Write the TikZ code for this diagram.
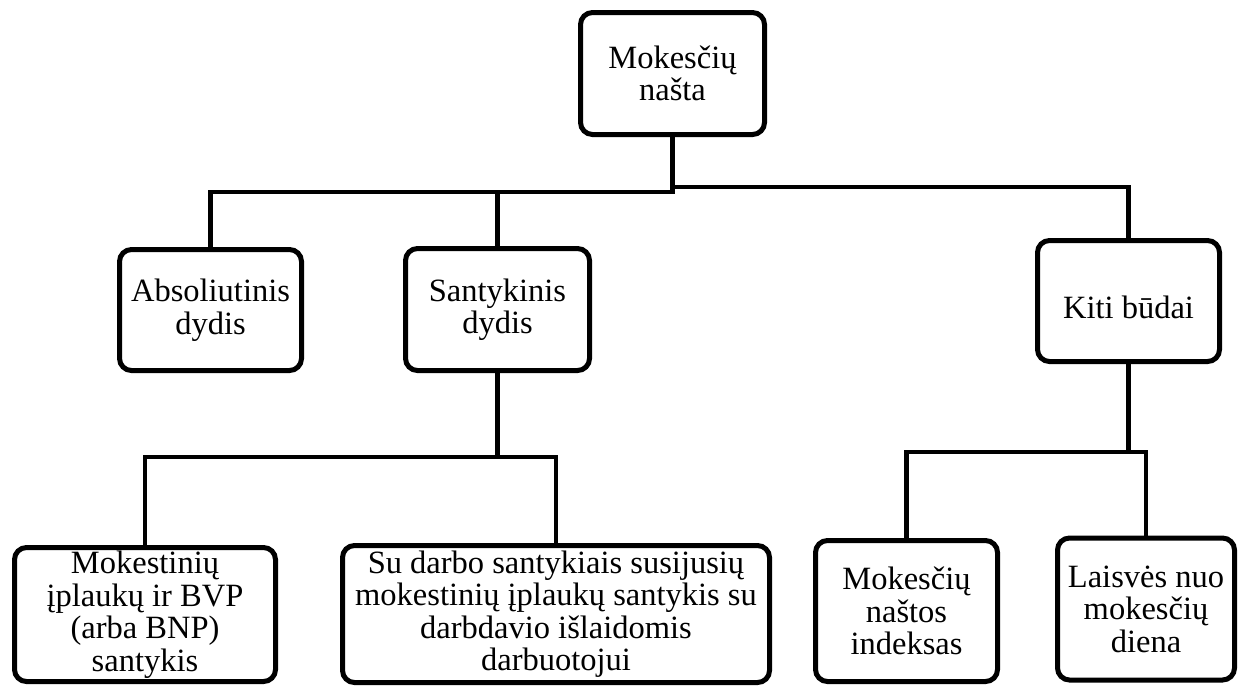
\documentclass[tikz,border=0pt]{standalone}
\usepackage{fontspec}
\setmainfont{Liberation Serif}
\tikzset{
  box/.style={draw, line width=5pt, rounded corners=12pt, inner sep=0pt, align=center,
    fill=white, font=\fontsize{32.5}{32.5}\selectfont},
  conn/.style={line width=4.8pt}
}
\begin{document}
\begin{tikzpicture}[x=1pt,y=-1pt]
\useasboundingbox (0,0) rectangle (1238,686);
\node[box, minimum width=184pt, minimum height=122pt] (top) at (672.5,73.5) {Mokesčių\\našta};
\node[box, minimum width=182pt, minimum height=121pt] (abs) at (210.5,310) {Absoliutinis\\dydis};
\node[box, minimum width=184pt, minimum height=122pt] (sant) at (497.5,309.5) {Santykinis\\dydis};
\node[box, minimum width=182pt, minimum height=121pt, text height=34pt, text depth=0pt] (kiti) at (1128.5,301) {Kiti būdai};
\node[box, minimum width=261pt, minimum height=134pt] (mok) at (145,614.5) {Mokestinių\\įplaukų ir BVP\\(arba BNP)\\santykis};
\node[box, minimum width=427pt, minimum height=137pt] (su) at (556,614) {Su darbo santykiais susijusių\\mokestinių įplaukų santykis su\\darbdavio išlaidomis\\darbuotojui};
\node[box, minimum width=182pt, minimum height=141pt] (idx) at (906.5,611) {Mokesčių\\naštos\\indeksas};
\node[box, minimum width=177pt, minimum height=142pt] (lais) at (1146,609) {Laisvės nuo\\mokesčių\\diena};
\coordinate (j1) at (672.5,192);
\coordinate (j2) at (672.5,187);
\coordinate (j3) at (497.5,457);
\coordinate (j4) at (1128.5,452);
\draw[conn] (top.south) -- (j1) -| (abs.north);
\draw[conn] (j1) -| (sant.north);
\draw[conn] (j2) -| (kiti.north);
\draw[conn] (sant.south) -- (j3) -| (mok.north);
\draw[conn] (j3) -| (su.north);
\draw[conn] (kiti.south) -- (j4) -| (idx.north);
\draw[conn] (j4) -| (lais.north);
\end{tikzpicture}
\end{document}
